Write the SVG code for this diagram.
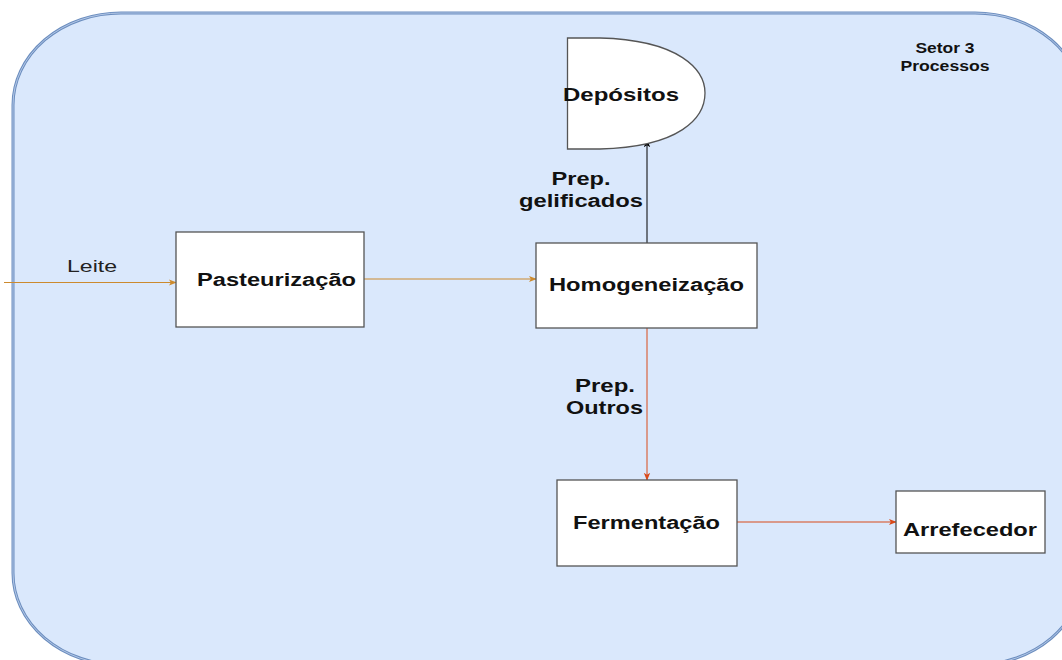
<svg xmlns="http://www.w3.org/2000/svg" width="1062" height="660" viewBox="0 0 1062 660">
<defs>
<marker id="aO" viewBox="0 0 10 10" refX="9" refY="5" markerWidth="8" markerHeight="8" orient="auto" markerUnits="userSpaceOnUse"><path d="M0,1 L10,5 L0,9 L2.5,5 Z" fill="#cc8a2e"/></marker>
<marker id="aR" viewBox="0 0 10 10" refX="9" refY="5" markerWidth="8" markerHeight="8" orient="auto" markerUnits="userSpaceOnUse"><path d="M0,1 L10,5 L0,9 L2.5,5 Z" fill="#d84a1b"/></marker>
<marker id="aK" viewBox="0 0 10 10" refX="9" refY="5" markerWidth="8" markerHeight="8" orient="auto" markerUnits="userSpaceOnUse"><path d="M0,1 L10,5 L0,9 L2.5,5 Z" fill="#000"/></marker>
</defs>
<style>
.box{fill:#fff;stroke:#555;stroke-width:1.3}
.lbl{font-family:"Liberation Sans",Arial,sans-serif;font-weight:bold;font-size:18px;fill:#111}
.sm{font-family:"Liberation Sans",Arial,sans-serif;font-weight:bold;font-size:14px;fill:#111}
.reg{font-family:"Liberation Sans",Arial,sans-serif;font-size:17px;fill:#222}
</style>
<rect width="1062" height="660" fill="#fff"/>
<g id="container">
<rect x="13" y="13" width="1070" height="652" rx="108" ry="92" fill="#dae8fc" stroke="#6c8ebf" stroke-width="3"/>
<rect x="13" y="13" width="1070" height="652" rx="108" ry="92" fill="none" stroke="#c5d6f0" stroke-width="0.8"/>
<text class="sm" x="945" y="53" text-anchor="middle" textLength="59" lengthAdjust="spacingAndGlyphs">Setor 3</text>
<text class="sm" x="945" y="71" text-anchor="middle" textLength="89" lengthAdjust="spacingAndGlyphs">Processos</text>
</g>
<g id="connectors" fill="none">
<path d="M4,282.5 L176,282.5" stroke="#cc8a2e" stroke-width="1" marker-end="url(#aO)"/>
<path d="M364,279 L536,279" stroke="#cc8a2e" stroke-width="1" marker-end="url(#aO)"/>
<path d="M647,243 L647,140" stroke="#000" stroke-width="1" marker-end="url(#aK)"/>
<path d="M647,328 L647,480" stroke="#d84a1b" stroke-width="1" marker-end="url(#aR)"/>
<path d="M737,522 L896,522" stroke="#d84a1b" stroke-width="1" marker-end="url(#aR)"/>
<text class="reg" x="92" y="272" text-anchor="middle" textLength="50" lengthAdjust="spacingAndGlyphs">Leite</text>
<text class="lbl" x="581" y="185" text-anchor="middle" textLength="59" lengthAdjust="spacingAndGlyphs">Prep.</text>
<text class="lbl" x="581" y="207" text-anchor="middle" textLength="124" lengthAdjust="spacingAndGlyphs">gelificados</text>
<text class="lbl" x="605" y="392" text-anchor="middle" textLength="60" lengthAdjust="spacingAndGlyphs">Prep.</text>
<text class="lbl" x="604.5" y="414" text-anchor="middle" textLength="77" lengthAdjust="spacingAndGlyphs">Outros</text>
</g>
<g id="depositos">
<path d="M567.5,38 L600,38 C680,40 705,70 705,93 C705,118 680,147 600,149 L567.5,149 Z" class="box"/>
<text class="lbl" x="621" y="101" text-anchor="middle" textLength="116" lengthAdjust="spacingAndGlyphs">Depósitos</text>
</g>
<g id="pasteurizacao">
<rect x="176" y="232" width="188" height="95" class="box"/>
<text class="lbl" x="276.5" y="286" text-anchor="middle" textLength="159" lengthAdjust="spacingAndGlyphs">Pasteurização</text>
</g>
<g id="homogeneizacao">
<rect x="536" y="243" width="221" height="85" class="box"/>
<text class="lbl" x="646.5" y="291" text-anchor="middle" textLength="195" lengthAdjust="spacingAndGlyphs">Homogeneização</text>
</g>
<g id="fermentacao">
<rect x="557" y="480" width="180" height="86" class="box"/>
<text class="lbl" x="646.5" y="529" text-anchor="middle" textLength="147" lengthAdjust="spacingAndGlyphs">Fermentação</text>
</g>
<g id="arrefecedor">
<rect x="896" y="491" width="149" height="62" class="box"/>
<text class="lbl" x="970" y="536" text-anchor="middle" textLength="134" lengthAdjust="spacingAndGlyphs">Arrefecedor</text>
</g>
</svg>
